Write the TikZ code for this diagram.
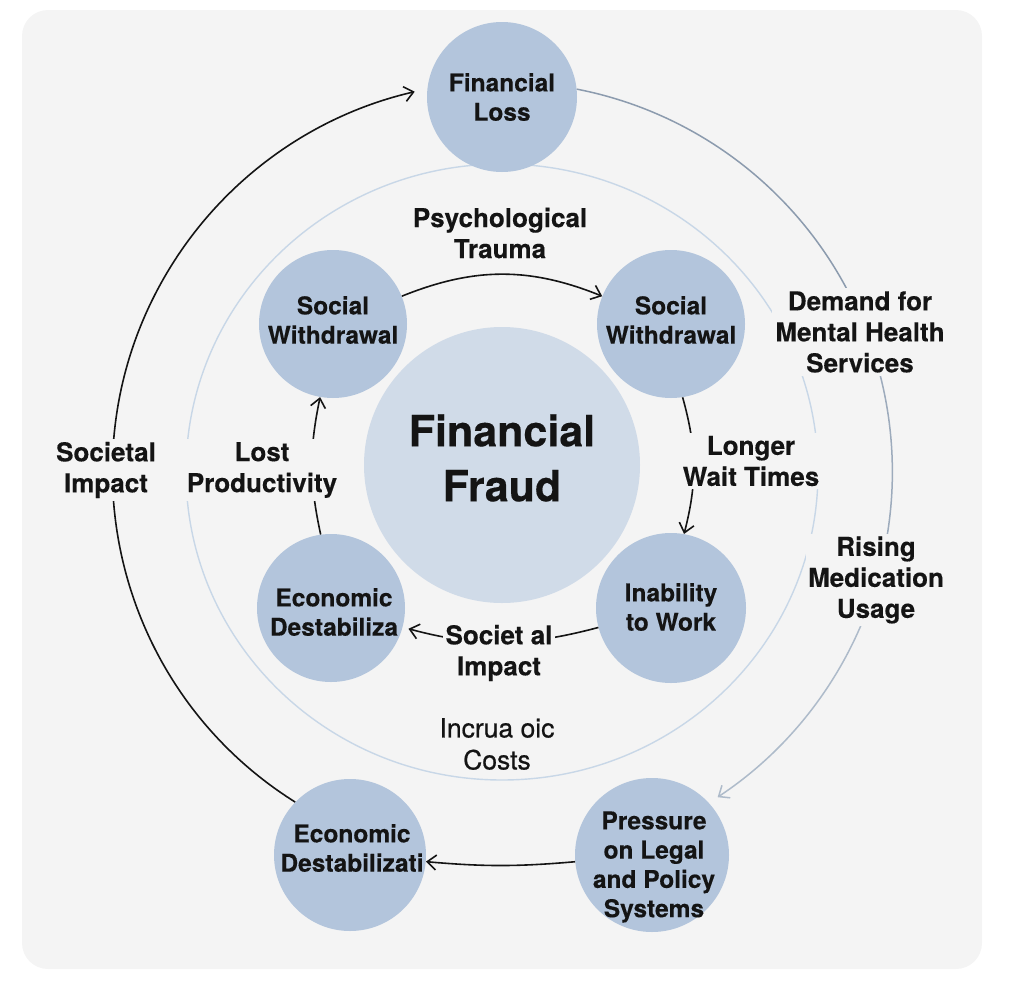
\documentclass[tikz,border=0pt]{standalone}
\usepackage{fontspec}
\setmainfont{TeX Gyre Heros}[BoldFeatures={FakeBold=0.3}]
\newfontfamily\medfont{TeX Gyre Heros}[FakeBold=0.6]
\usetikzlibrary{arrows.meta}
\definecolor{panel}{HTML}{F4F4F4}
\definecolor{bubfill}{HTML}{B3C5DC}
\definecolor{corefill}{HTML}{D0DBE8}
\definecolor{ringcol}{HTML}{C8D7E7}
\definecolor{arcA}{HTML}{8C9BAE}
\definecolor{arcB}{HTML}{9DABBC}
\definecolor{arcC}{HTML}{AEBBCA}
\definecolor{ink}{HTML}{141414}
\begin{document}
\begin{tikzpicture}[x=1pt,y=1pt,
  bub/.style={circle,fill=bubfill,minimum size=#1,inner sep=0pt},
  ctext/.style={align=center,font=\fontsize{24.5}{29.3}\selectfont\bfseries,text=ink,inner sep=0pt},
  lbl/.style={align=center,font=\fontsize{26}{31}\selectfont\bfseries,text=ink,fill=panel,inner sep=3pt},
  lblreg/.style={align=center,font=\fontsize{26.5}{32}\selectfont\medfont,text=ink,inner sep=3pt},
  blk/.style={draw=ink,line width=1.6pt},
  gry/.style={line width=1.5pt},
  tip/.style={-{Straight Barb[length=9pt,width=15pt]}}
]
\useasboundingbox (0,0) rectangle (1010,-988);
\fill[panel,rounded corners=26pt] (22,-10) rectangle (982,-969);

% inner ring
\draw[ringcol,line width=1.4pt] (502,-472) ellipse[x radius=316, y radius=308];

% circles
\node[bub=150pt] (finLoss) at (502,-97) {};
\node[bub=148pt] (swL) at (333,-324) {};
\node[bub=148pt] (swR) at (671,-324) {};
\node[circle,fill=corefill,minimum size=276pt,inner sep=0pt] (core) at (502,-465) {};
\node[bub=150pt] (inab) at (671,-608) {};
\node[bub=148pt] (ecoIn) at (331,-608) {};
\node[bub=152pt] (ecoOut) at (350,-855) {};
\node[bub=154pt] (press) at (652,-855) {};

% circle texts
\node[ctext] (finLossT) at (502,-97) {Financial\\Loss};
\node[ctext] (swLT) at (333,-320) {Social\\Withdrawal};
\node[ctext] (swRT) at (671,-320) {Social\\Withdrawal};
\node[align=center,font=\fontsize{43}{55}\selectfont\bfseries,text=ink,inner sep=0pt] (coreT) at (502,-458) {Financial\\Fraud};
\node[ctext] (inabT) at (671,-607) {Inability\\to Work};
\node[ctext] (ecoInT) at (334,-612) {Economic\\Destabiliza};
\node[ctext] (ecoOutT) at (352,-848) {Economic\\Destabilizati};
\node[ctext] (pressT) at (654,-867) {Pressure\\on Legal\\and Policy\\Systems};

% outer connectors
\draw[blk,tip] (ecoOut.136) arc[start angle=237.9,end angle=103,radius=390];
\draw[gry,draw=arcA] (finLoss.6) arc[start angle=79,end angle=18,radius=390] coordinate (r1);
\draw[gry,draw=arcB] (r1) arc[start angle=18,end angle=-22,radius=390] coordinate (r2);
\draw[gry,draw=arcC,tip] (r2) arc[start angle=-22,end angle=-56.5,radius=390];
\draw[blk,tip] (press) to[bend left=5] (ecoOut);

% inner connectors
\draw[blk,tip] (swL) to[bend left=22] (swR);
\draw[blk,tip] (swR.-81) to[bend left=15] (inab.80);
\draw[blk,tip,shorten >=6pt] (inab.195) to[bend left=15] (ecoIn.-15);
\draw[blk,tip] (ecoIn.98) to[bend left=12] (swL.-100);

% labels
\node[lbl] (psych) at (500,-233) {Psychological\\Trauma};
\node[lbl] (demand) at (860,-332) {Demand for\\Mental Health\\Services};
\node[lbl] (longer) at (751,-461) {Longer\\Wait Times};
\node[lbl,inner sep=2pt] (rising) at (876,-580) {Rising\\Medication\\Usage};
\node[lbl] (societIn) at (499,-653) {Societ al\\Impact};
\node[lblreg] (costs) at (497,-744) {Incrua oic\\Costs};
\node[lbl] (lostProd) at (262,-470) {Lost\\Productivity};
\node[lbl] (societOut) at (106,-470) {Societal\\Impact};
\end{tikzpicture}
\end{document}
